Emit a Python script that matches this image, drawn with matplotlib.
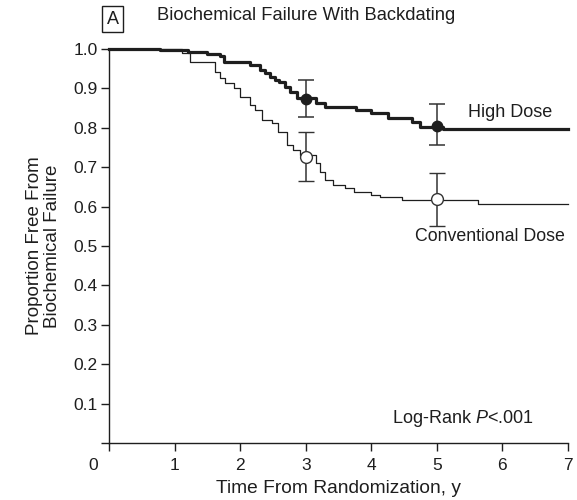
import numpy as np
import matplotlib
matplotlib.use("Agg")
import matplotlib.pyplot as plt
from matplotlib.transforms import ScaledTranslation

plt.rcParams['font.family'] = ['Liberation Sans', 'DejaVu Sans']
plt.rcParams['mathtext.fontset'] = 'custom'
plt.rcParams['mathtext.rm'] = 'Liberation Sans'
plt.rcParams['mathtext.it'] = 'Liberation Sans:italic'

ink = '#1e1e1e'

#### Kaplan-Meier step data ####
hd_t = [0, 0.78, 1.21, 1.50, 1.70, 1.75, 2.15, 2.30, 2.38, 2.46, 2.53, 2.60, 2.68,
        2.76, 2.87, 3.15, 3.30, 3.76, 4.00, 4.26, 4.62, 4.75, 5.10, 7.0]
hd_s = [1.0, 0.998, 0.993, 0.988, 0.982, 0.966, 0.960, 0.947, 0.940, 0.929, 0.922,
        0.916, 0.903, 0.890, 0.876, 0.863, 0.853, 0.845, 0.838, 0.825, 0.815, 0.803,
        0.797, 0.797]

cd_t = [0, 1.12, 1.24, 1.62, 1.69, 1.77, 1.90, 2.00, 2.15, 2.23, 2.33, 2.48, 2.58,
        2.71, 2.81, 2.92, 3.15, 3.22, 3.30, 3.42, 3.60, 3.73, 4.00, 4.14, 4.47,
        5.63, 7.0]
cd_s = [1.0, 0.990, 0.966, 0.942, 0.926, 0.914, 0.902, 0.878, 0.858, 0.845, 0.820,
        0.812, 0.790, 0.756, 0.744, 0.732, 0.710, 0.688, 0.668, 0.655, 0.647, 0.637,
        0.629, 0.624, 0.617, 0.607, 0.607]

# point estimates with 95% CI at 3 and 5 years
ci_years = [3, 5]
hd_est = [0.873, 0.805]
hd_lo = [0.827, 0.756]
hd_hi = [0.921, 0.860]
cd_est = [0.726, 0.620]
cd_lo = [0.665, 0.550]
cd_hi = [0.790, 0.685]

xticks = [0, 1, 2, 3, 4, 5, 6, 7]
yticks = [0, 0.1, 0.2, 0.3, 0.4, 0.5, 0.6, 0.7, 0.8, 0.9, 1.0]
ylabs = ['', '0.1', '0.2', '0.3', '0.4', '0.5', '0.6', '0.7', '0.8', '0.9', '1.0']

fig = plt.figure(figsize=(5.77, 5.0), dpi=100)
ax = fig.add_axes([109/577, 57/500, 459/577, 394/500])

ax.plot(cd_t, cd_s, drawstyle='steps-post', color=ink, lw=0.9, clip_on=False, zorder=3)
ax.plot(hd_t, hd_s, drawstyle='steps-post', color=ink, lw=2.3, clip_on=False, zorder=3)

hd_err = [np.array(hd_est) - np.array(hd_lo), np.array(hd_hi) - np.array(hd_est)]
cd_err = [np.array(cd_est) - np.array(cd_lo), np.array(cd_hi) - np.array(cd_est)]
ax.errorbar(ci_years, hd_est, yerr=hd_err, fmt='o', color=ink, ms=7.5,
            mfc=ink, mec=ink, ecolor='#333333', elinewidth=1.1, capsize=5.5,
            capthick=1.1, zorder=4)
ax.errorbar(ci_years, cd_est, yerr=cd_err, fmt='o', color=ink, ms=8.5,
            mfc='white', mec='#333333', mew=1.0, ecolor='#333333', elinewidth=1.1,
            capsize=5.5, capthick=1.1, zorder=4)

ax.set_xlim(0, 7)
ax.set_ylim(0, 1.0)
ax.set_xticks(xticks)
ax.set_yticks(yticks)
ax.set_yticklabels(ylabs)
for s in ['top', 'right']:
    ax.spines[s].set_visible(False)
for s in ['left', 'bottom']:
    ax.spines[s].set_color(ink)
    ax.spines[s].set_linewidth(1.0)
ax.tick_params(axis='both', direction='out', length=6, width=1.0, color=ink,
               labelsize=12.5, labelcolor=ink)
ax.tick_params(axis='x', pad=5)
ax.tick_params(axis='y', pad=2)

# the "0" sits left of the origin
lab0 = ax.get_xticklabels()[0]
lab0.set_transform(lab0.get_transform() + ScaledTranslation(-16/100, 0, fig.dpi_scale_trans))

ax.set_xlabel('Time From Randomization, y', fontsize=13.8, color=ink)
ax.xaxis.set_label_coords(0.5, -0.094)
ax.set_ylabel('Proportion Free From\nBiochemical Failure', fontsize=13.5, color=ink,
              linespacing=1.1)
ax.yaxis.set_label_coords(-0.105, 0.5)

ax.text(5.48, 0.838, 'High Dose', fontsize=13, color=ink, va='center', ha='left')
ax.text(4.67, 0.523, 'Conventional Dose', fontsize=12.8, color=ink, va='center', ha='left')
ax.text(4.32, 0.061, 'Log-Rank $P$<.001', fontsize=13, color=ink, va='center', ha='left')

fig.text(306/577, 1 - 16/500, 'Biochemical Failure With Backdating', fontsize=13.2,
         color=ink, ha='center', va='center')
fig.text(112.5/577, 1 - 19/500, 'A', fontsize=13, color=ink, ha='center', va='center',
         bbox=dict(boxstyle='square,pad=0.25', fc='white', ec=ink, lw=1.0))

fig.savefig('out.png', dpi=100)
